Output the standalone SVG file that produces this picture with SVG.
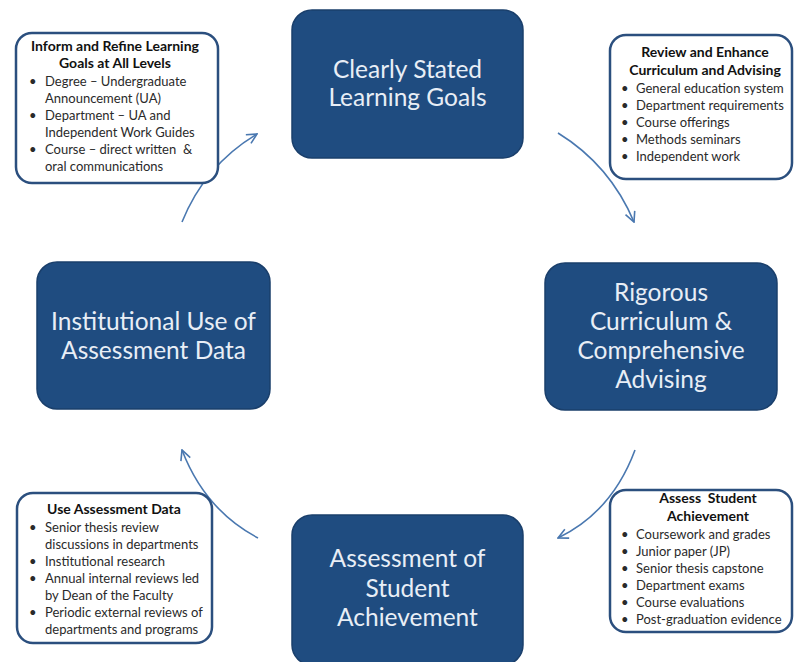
<svg xmlns="http://www.w3.org/2000/svg" width="794" height="662" viewBox="0 0 794 662">
<defs>
<style>
.main{fill:#1f4c80;stroke:#1a3f6b;stroke-width:1.5}
.mt{font-family:Lato,"Open Sans",sans-serif;font-size:24.5px;fill:#e8eef6;text-anchor:middle}
.co{fill:#fff;stroke:#2b4f7e;stroke-width:2.5}
.ct{font-family:Lato,"Open Sans",sans-serif;font-size:13px;fill:#2a2a2a}
.ch{font-family:Lato,"Open Sans",sans-serif;font-size:14px;font-weight:bold;fill:#111;text-anchor:middle}
.ar{fill:none;stroke:#4a78b0;stroke-width:1.6;marker-end:url(#ah)}
</style>
<marker id="ah" viewBox="0 0 12 12" refX="11" refY="6" markerWidth="12" markerHeight="12" markerUnits="userSpaceOnUse" orient="auto">
<path d="M1,1 L11,6 L1,11" fill="none" stroke="#4a78b0" stroke-width="1.6"/>
</marker>
</defs>
<rect width="794" height="662" fill="#fff"/>
<g id="connectors">
<path class="ar" d="M182,222 Q205,165 257,134"/>
<path class="ar" d="M558,133 Q610,165 634,222"/>
<path class="ar" d="M635,450 Q612,512 558,538"/>
<path class="ar" d="M258,538 Q205,510 182,450"/>
</g>
<g id="goals">
<rect class="main" x="292" y="10" width="231" height="148" rx="20"/>
<text class="mt" x="407.5" y="78">Clearly Stated</text>
<text class="mt" x="407.5" y="106">Learning Goals</text>
</g>
<g id="curriculum">
<rect class="main" x="545" y="263" width="232" height="147" rx="20"/>
<text class="mt" x="661" y="301">Rigorous</text>
<text class="mt" x="661" y="330">Curriculum &amp;</text>
<text class="mt" x="661" y="359">Comprehensive</text>
<text class="mt" x="661" y="388">Advising</text>
</g>
<g id="assessment">
<rect class="main" x="292" y="515" width="231" height="150" rx="20"/>
<text class="mt" x="407.5" y="567">Assessment of</text>
<text class="mt" x="407.5" y="597">Student</text>
<text class="mt" x="407.5" y="626">Achievement</text>
</g>
<g id="institutional">
<rect class="main" x="37" y="262" width="233" height="147" rx="20"/>
<text class="mt" x="153.5" y="330">Institutional Use of</text>
<text class="mt" x="153.5" y="359">Assessment Data</text>
</g>
<g id="inform">
<rect class="co" x="16" y="33" width="202" height="150" rx="16"/>
<text class="ch" x="115" y="51">Inform and Refine Learning</text>
<text class="ch" x="115" y="68">Goals at All Levels</text>
<text class="ct"><tspan x="29" y="86">•</tspan><tspan x="45">Degree – Undergraduate</tspan><tspan x="45" y="103">Announcement (UA)</tspan><tspan x="29" y="120">•</tspan><tspan x="45">Department – UA and</tspan><tspan x="45" y="137">Independent Work Guides</tspan><tspan x="29" y="154">•</tspan><tspan x="45">Course – direct written &#160;&amp;</tspan><tspan x="45" y="171">oral communications</tspan></text>
</g>
<g id="review">
<rect class="co" x="610" y="35" width="182" height="144" rx="16"/>
<text class="ch" x="705" y="57">Review and Enhance</text>
<text class="ch" x="705" y="75">Curriculum and Advising</text>
<text class="ct"><tspan x="621" y="93">•</tspan><tspan x="636">General education system</tspan><tspan x="621" y="110">•</tspan><tspan x="636">Department requirements</tspan><tspan x="621" y="127">•</tspan><tspan x="636">Course offerings</tspan><tspan x="621" y="144">•</tspan><tspan x="636">Methods seminars</tspan><tspan x="621" y="161">•</tspan><tspan x="636">Independent work</tspan></text>
</g>
<g id="use">
<rect class="co" x="17" y="493" width="195" height="150" rx="16"/>
<text class="ch" x="114" y="514">Use Assessment Data</text>
<text class="ct"><tspan x="29" y="532">•</tspan><tspan x="45">Senior thesis review</tspan><tspan x="45" y="549">discussions in departments</tspan><tspan x="29" y="566">•</tspan><tspan x="45">Institutional research</tspan><tspan x="29" y="583">•</tspan><tspan x="45">Annual internal reviews led</tspan><tspan x="45" y="600">by Dean of the Faculty</tspan><tspan x="29" y="617">•</tspan><tspan x="45">Periodic external reviews of</tspan><tspan x="45" y="634">departments and programs</tspan></text>
</g>
<g id="assess">
<rect class="co" x="610" y="490" width="182" height="142" rx="16"/>
<text class="ch" x="708" y="503">Assess &#160;Student</text>
<text class="ch" x="708" y="521">Achievement</text>
<text class="ct"><tspan x="621" y="539">•</tspan><tspan x="636">Coursework and grades</tspan><tspan x="621" y="556">•</tspan><tspan x="636">Junior paper (JP)</tspan><tspan x="621" y="573">•</tspan><tspan x="636">Senior thesis capstone</tspan><tspan x="621" y="590">•</tspan><tspan x="636">Department exams</tspan><tspan x="621" y="607">•</tspan><tspan x="636">Course evaluations</tspan><tspan x="621" y="624">•</tspan><tspan x="636">Post-graduation evidence</tspan></text>
</g>
</svg>
